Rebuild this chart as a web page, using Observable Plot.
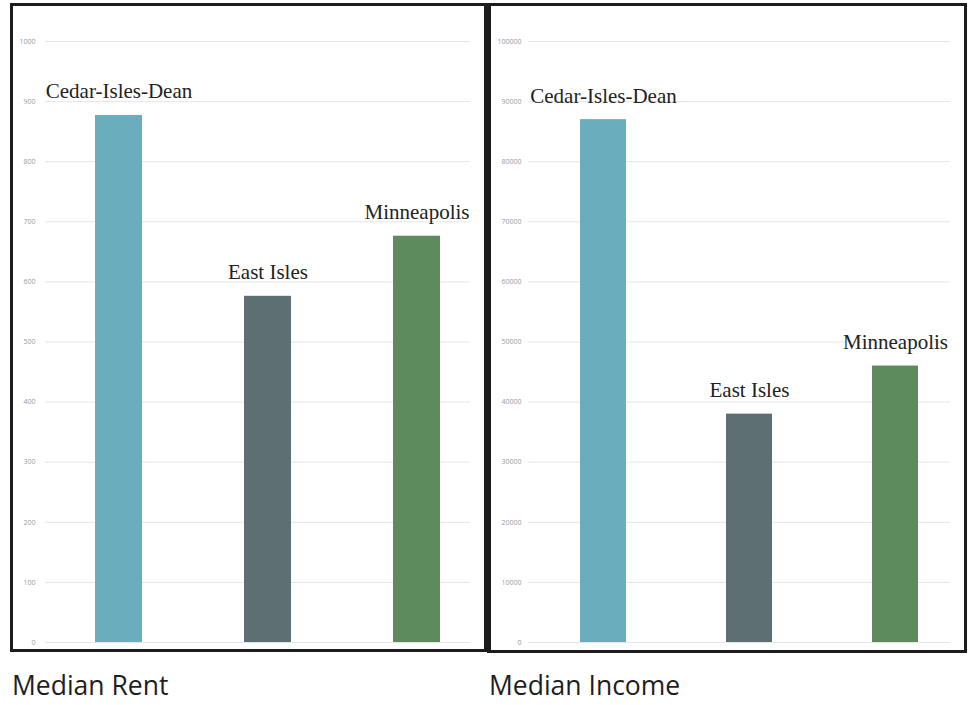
<!DOCTYPE html>
<html>
<head>
<meta charset="utf-8">
<script src="https://cdn.jsdelivr.net/npm/d3@7"></script>
<script src="https://cdn.jsdelivr.net/npm/@observablehq/plot@0.6"></script>
<style>
  html, body { margin: 0; padding: 0; background: #fff; width: 970px; height: 705px; overflow: hidden; }
  #wrap { position: relative; width: 970px; height: 705px; }
  .box { position: absolute; box-sizing: border-box; border: 3px solid #1c1c1c; }
  .chart { position: absolute; }
  .title { position: absolute; font-family: "Open Sans", sans-serif; font-size: 26.5px; line-height: 24px; height: 24px; color: #1e1e1e; white-space: nowrap; }
</style>
</head>
<body>
<div id="wrap">
  <div class="box" style="left:10px; top:3px; width:477px; height:649px;"></div>
  <div class="box" style="left:487px; top:3px; width:480px; height:650px; border-width:3px 3px 3px 4px;"></div>
  <div class="chart" id="left" style="left:12px; top:5px;"></div>
  <div class="chart" id="right" style="left:491px; top:5px;"></div>
  <div class="title" style="left:12px; top:673px;">Median Rent</div>
  <div class="title" style="left:489px; top:673px;">Median Income</div>
</div>
<script>
const categories = ["Cedar-Isles-Dean", "East Isles", "Minneapolis"];
const medianRent = [877, 576, 676];
const medianIncome = [87000, 38000, 46000];
const barColors = ["#6aaebe", "#5e6f73", "#5e8b5e"];
const rentTicks = [0, 100, 200, 300, 400, 500, 600, 700, 800, 900, 1000];
const incomeTicks = [0, 10000, 20000, 30000, 40000, 50000, 60000, 70000, 80000, 90000, 100000];

function panel(values, ticks, opts) {
  const data = categories.map((c, i) => ({name: c, value: values[i]}));
  return Plot.plot({
    width: 471,
    height: 644,
    marginTop: 36,
    marginBottom: 7,
    marginLeft: opts.marginLeft,
    marginRight: opts.marginRight,
    style: {background: "transparent", overflow: "visible"},
    x: {domain: categories, range: opts.xRange, paddingInner: 0.685, paddingOuter: 0, axis: null},
    y: {domain: [0, ticks[ticks.length - 1]], ticks: ticks, grid: false, axis: null, label: null},
    color: {domain: categories, range: barColors},
    marks: [
      Plot.gridY(ticks, {stroke: "#e6e6e6", strokeOpacity: 1, strokeWidth: 1}),
      Plot.axisY(ticks, {tickSize: 0, tickPadding: opts.tickPadding, fontSize: 7, fill: "#9a9a9a", tickFormat: d => String(d), fontFamily: "Open Sans", label: null}),
      Plot.barY(data, {x: "name", y: "value", fill: "name"}),
      Plot.text(data, {x: "name", y: "value", text: "name", dy: -17, lineAnchor: "bottom", fontFamily: "Liberation Serif", fontSize: 21, fill: "#222"})
    ]
  });
}

document.getElementById("left").appendChild(
  panel(medianRent, rentTicks, {marginLeft: 33, marginRight: 13, xRange: [83, 428], tickPadding: 10})
);
document.getElementById("right").appendChild(
  panel(medianIncome, incomeTicks, {marginLeft: 37, marginRight: 12, xRange: [89, 427], tickPadding: 7})
);
</script>
</body>
</html>
